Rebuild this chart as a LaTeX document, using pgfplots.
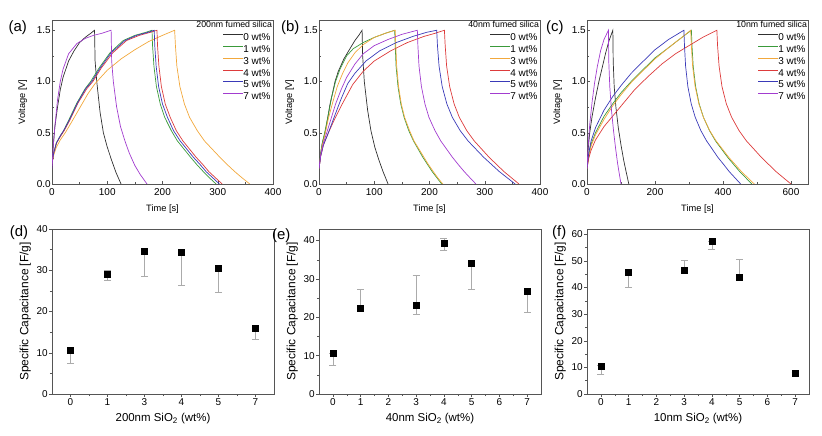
\documentclass[border=0pt]{standalone}
\usepackage{fontspec}
\setmainfont{Liberation Sans}
\usepackage{pgfplots}
\pgfplotsset{compat=1.18}
\usepackage{pgfplotstable}
\definecolor{cblack}{HTML}{303030}
\definecolor{cgreen}{HTML}{3A9A3A}
\definecolor{corange}{HTML}{F2A83C}
\definecolor{cred}{HTML}{DD3B3B}
\definecolor{cblue}{HTML}{3A3AB8}
\definecolor{cviolet}{HTML}{A23CCF}
\definecolor{axgray}{HTML}{555555}
\definecolor{errgray}{HTML}{ABABAB}

\pgfplotsset{
  common/.style={
    scale only axis,
    clip mode=individual,
    /pgf/number format/assume math mode=true,
    tick label style={font=\fontsize{10}{11}\selectfont, inner sep=1.2bp},
    axis line style={axgray},
    every tick/.style={axgray},
    xtick pos=bottom, ytick pos=left,
  },
  gcd/.style={
    common,
    label style={font=\fontsize{9.3}{10}\selectfont},
    xticklabel style={yshift=-3bp},
    xlabel shift=5bp, ylabel shift=5bp,
    width=221bp, height=164bp,
    xmin=0, xmax=400, ymin=0, ymax=1.6,
    xtick={0,100,200,300,400},
    ytick={0,0.5,1,1.5},
    yticklabel style={/pgf/number format/.cd, fixed, fixed zerofill, precision=1},
    minor x tick num=1, minor y tick num=1,
    tick align=inside,
    major tick length=3bp, minor tick length=2bp,
    xlabel={Time [s]}, ylabel={Voltage [V]},
    every axis plot/.append style={line width=0.7bp, mark=none},
    legend style={draw=none, fill=none, at={(0.989,0.917)}, anchor=north east,
      font=\fontsize{10}{11}\selectfont, inner sep=0pt, outer sep=0pt, row sep=3.8bp,
      nodes={inner sep=0pt, text height=7bp, text depth=1bp}},
    legend cell align=right,
    legend image code/.code={\draw[#1] (0bp,3bp) -- (20bp,3bp);},
  },
  cap/.style={
    common,
    ylabel style={font=\fontsize{12}{13}\selectfont},
    xlabel style={font=\fontsize{11.5}{12}\selectfont},
    xlabel shift=3bp, ylabel shift=1bp,
    width=222bp, height=165bp,
    ymin=0,
    minor y tick num=1,
    tick align=outside,
    major tick length=3bp, minor tick length=2bp,
    ylabel={Specific Capacitance [F/g]},
  },
  capplot/.style={
    only marks, mark=square*, mark size=3bp, color=black,
    error bars/.cd, y dir=both, y explicit,
    error bar style={errgray, line width=0.6bp},
    error mark options={errgray, mark size=3.5bp, line width=0.6bp, rotate=90},
  },
}
\newcommand{\plab}[3]{\node[font=\fontsize{15}{15}\selectfont] at (rel axis cs:#1,#2) {(#3)};}

\begin{document}
\begin{tikzpicture}
\path[use as bounding box] (0,0) rectangle (822bp,436bp);

%%%%%%%%%%%%%%%%%%%% (a)
\begin{axis}[gcd, at={(52bp,252bp)}, anchor=south west]
\addplot[cblack] coordinates {(0,0.15)(2,0.35)(5,0.55)(10,0.75)(15,0.92)(20,1.04)(30,1.2)(40,1.3)(50,1.38)(60,1.43)(70,1.47)(77,1.5)
 (78,1.2)(81,1.0)(87,0.7)(93,0.5)(100,0.36)(108,0.23)(116,0.11)(125,0)};
\addplot[cgreen] coordinates {(0,0.2)(3,0.3)(8,0.4)(15,0.47)(21,0.52)(30,0.62)(45,0.79)(60,0.93)(70,1.0)(85,1.13)(105,1.28)(129,1.4)(150,1.45)(170,1.48)(181,1.5)
 (182,1.35)(184.5,1.15)(189,0.95)(196,0.78)(204,0.65)(216,0.52)(227,0.42)(239,0.34)(251,0.26)(262,0.19)(274,0.12)(285,0.06)(297,0)};
\addplot[corange] coordinates {(0,0.2)(3,0.28)(8,0.36)(15,0.43)(24,0.5)(35,0.6)(50,0.74)(65,0.88)(78,0.98)(100,1.11)(125,1.22)(150,1.31)(175,1.39)(200,1.45)(222,1.5)
 (223.4,1.35)(226,1.15)(231.5,0.95)(239.7,0.78)(249,0.65)(263,0.52)(276,0.42)(290,0.34)(304,0.26)(317,0.19)(331,0.12)(344,0.06)(358,0)};
\addplot[cred] coordinates {(0,0.2)(3,0.3)(8,0.4)(16,0.47)(22,0.52)(32,0.62)(47,0.79)(63,0.93)(74,1.0)(89,1.13)(110,1.28)(135,1.4)(158,1.45)(178,1.48)(190,1.5)
 (191,1.35)(193.5,1.15)(198,0.95)(205,0.78)(214,0.65)(225,0.52)(237,0.42)(249,0.34)(261,0.26)(273,0.19)(284,0.12)(296,0.06)(308,0)};
\addplot[cblue] coordinates {(0,0.2)(3,0.3)(8,0.4)(15,0.47)(21,0.52)(31,0.62)(46,0.79)(61,0.93)(72,1.0)(87,1.13)(107,1.28)(132,1.4)(153,1.45)(174,1.48)(185,1.5)
 (186,1.35)(188.5,1.15)(193,0.95)(200,0.78)(209,0.65)(220,0.52)(232,0.42)(244,0.34)(256,0.26)(268,0.19)(279,0.12)(291,0.06)(303,0)};
\addplot[cviolet] coordinates {(0,0.15)(2,0.35)(5,0.55)(10,0.82)(15,1.0)(20,1.12)(30,1.27)(45,1.37)(60,1.42)(75,1.45)(90,1.47)(107,1.5)
 (108,1.2)(111,1.0)(117,0.75)(124,0.56)(132,0.42)(140,0.3)(150,0.18)(160,0.09)(172,0)};
\legend{0 wt\%,1 wt\%,3 wt\%,4 wt\%,5 wt\%,7 wt\%}
\node[anchor=north east, font=\fontsize{8.8}{9}\selectfont, inner sep=0.8bp] at (rel axis cs:1,1) {200nm fumed silica};
\plab{-0.155}{0.955}{a}
\end{axis}

%%%%%%%%%%%%%%%%%%%% (b)
\begin{axis}[gcd, at={(319bp,252bp)}, anchor=south west]
\addplot[cblack] coordinates {(0,0.15)(3,0.3)(6,0.4)(11,0.5)(15,0.62)(20,0.78)(25,0.9)(29,1.0)(35,1.1)(45,1.22)(56,1.32)(65,1.4)(72,1.45)(78,1.5)
 (79,1.25)(82,1.0)(88,0.72)(94,0.52)(101,0.36)(108,0.24)(116,0.12)(125,0)};
\addplot[cgreen] coordinates {(0,0.15)(3,0.3)(6,0.4)(11,0.52)(17,0.68)(23,0.85)(30,1.0)(38,1.12)(50,1.25)(62,1.32)(80,1.38)(100,1.43)(120,1.47)(137,1.5)
 (138,1.35)(139.5,1.15)(143,0.95)(148,0.78)(154,0.65)(162.5,0.52)(171,0.42)(179.5,0.34)(188,0.26)(196.5,0.19)(205,0.12)(213.5,0.06)(222,0)};
\addplot[corange] coordinates {(0,0.15)(3,0.28)(6,0.38)(11,0.49)(17,0.64)(25,0.8)(33,0.95)(42,1.07)(52,1.18)(65,1.28)(80,1.36)(100,1.43)(120,1.47)(138,1.5)
 (139,1.35)(140.6,1.15)(144,0.95)(149,0.78)(155,0.65)(164,0.52)(172,0.42)(181,0.34)(190,0.26)(198,0.19)(207,0.12)(215,0.06)(224,0)};
\addplot[cred] coordinates {(0,0.15)(3,0.27)(8,0.38)(17,0.5)(28,0.63)(40,0.76)(52,0.88)(61,0.97)(80,1.1)(100,1.2)(130,1.3)(160,1.38)(190,1.44)(210,1.47)(227,1.5)
 (228.4,1.35)(231,1.15)(236.5,0.95)(244.6,0.78)(254,0.65)(267.5,0.52)(281,0.42)(294.5,0.34)(308,0.26)(321.5,0.19)(335,0.12)(348.5,0.06)(362,0)};
\addplot[cblue] coordinates {(0,0.15)(3,0.27)(8,0.38)(17,0.5)(28,0.66)(40,0.83)(52,0.98)(65,1.08)(85,1.2)(110,1.3)(140,1.38)(170,1.44)(195,1.48)(213,1.5)
 (214.4,1.35)(217.3,1.15)(223,0.95)(231.5,0.78)(241.4,0.65)(255.6,0.52)(269.8,0.42)(284,0.34)(298.2,0.26)(312.4,0.19)(326.6,0.12)(340.8,0.06)(355,0)};
\addplot[cviolet] coordinates {(0,0.15)(3,0.28)(8,0.4)(14,0.5)(22,0.64)(30,0.78)(40,0.92)(50,1.04)(65,1.17)(80,1.27)(100,1.35)(125,1.41)(150,1.46)(178,1.5)
 (179,1.35)(181,1.15)(185.4,0.95)(191.8,0.78)(199,0.65)(210,0.52)(220.4,0.42)(231,0.34)(241.6,0.26)(252,0.19)(263,0.12)(273.4,0.06)(284,0)};
\legend{0 wt\%,1 wt\%,3 wt\%,4 wt\%,5 wt\%,7 wt\%}
\node[anchor=north east, font=\fontsize{8.8}{9}\selectfont, inner sep=0.8bp] at (rel axis cs:1,1) {40nm fumed silica};
\plab{-0.13}{0.955}{b}
\end{axis}

%%%%%%%%%%%%%%%%%%%% (c)
\begin{axis}[gcd, at={(587bp,252bp)}, anchor=south west, xmax=650, xtick={0,200,400,600}]
\addplot[cblack] coordinates {(0,0.15)(3,0.32)(8,0.5)(15,0.66)(25,0.84)(35,1.0)(45,1.14)(55,1.28)(65,1.4)(76,1.5)
 (77,1.2)(80,0.95)(85,0.75)(92,0.55)(100,0.38)(108,0.23)(115,0.12)(123,0)};
\addplot[cgreen] coordinates {(0,0.15)(5,0.28)(12,0.39)(25,0.5)(50,0.66)(75,0.78)(100,0.89)(130,1.0)(160,1.1)(200,1.23)(240,1.33)(275,1.42)(307,1.5)
 (308.8,1.35)(312.3,1.15)(319.5,0.95)(330,0.78)(342.6,0.65)(360.4,0.52)(378,0.42)(396,0.34)(413.8,0.26)(431.6,0.19)(449.4,0.12)(467.2,0.06)(485,0)};
\addplot[corange] coordinates {(0,0.15)(5,0.27)(12,0.37)(25,0.48)(50,0.63)(75,0.76)(100,0.87)(130,0.99)(160,1.09)(200,1.22)(240,1.33)(275,1.42)(305,1.5)
 (306.9,1.35)(310.6,1.15)(318,0.95)(329.3,0.78)(342.4,0.65)(361,0.52)(379.8,0.42)(398.5,0.34)(417,0.26)(436,0.19)(454.6,0.12)(473.3,0.06)(492,0)};
\addplot[cred] coordinates {(0,0.15)(5,0.25)(12,0.33)(25,0.43)(50,0.56)(75,0.66)(100,0.76)(140,0.92)(180,1.05)(220,1.17)(260,1.27)(300,1.35)(340,1.43)(382,1.5)
 (384,1.35)(388.5,1.15)(397,0.95)(410,0.78)(425.6,0.65)(447.4,0.52)(469,0.42)(491,0.34)(512.8,0.26)(534.6,0.19)(556.4,0.12)(578,0.06)(600,0)};
\addplot[cblue] coordinates {(0,0.15)(5,0.3)(12,0.42)(25,0.55)(50,0.72)(75,0.85)(100,0.96)(130,1.08)(160,1.18)(200,1.31)(240,1.41)(265,1.46)(285,1.5)
 (286.7,1.35)(290,1.15)(296.7,0.95)(306.7,0.78)(318.4,0.65)(335,0.52)(351.8,0.42)(368.5,0.34)(385,0.26)(402,0.19)(418.6,0.12)(435.3,0.06)(452,0)};
\addplot[cviolet] coordinates {(0,0.15)(3,0.35)(8,0.58)(15,0.8)(22,0.98)(30,1.14)(40,1.3)(50,1.41)(63,1.5)
 (64,1.2)(67,0.95)(72,0.72)(78,0.52)(84,0.35)(90,0.2)(95,0.1)(100,0)};
\legend{0 wt\%,1 wt\%,3 wt\%,4 wt\%,5 wt\%,7 wt\%}
\node[anchor=north east, font=\fontsize{8.8}{9}\selectfont, inner sep=0.8bp] at (rel axis cs:1,1) {10nm fumed silica};
\plab{-0.145}{0.955}{c}
\end{axis}

%%%%%%%%%%%%%%%%%%%% (d)
\begin{axis}[cap, at={(52bp,42bp)}, anchor=south west,
  xmin=-0.5, xmax=5.5, xtick={0,1,2,3,4,5}, xticklabels={0,1,3,4,5,7},
  minor x tick num=1, ymax=40, ytick={0,10,20,30,40},
  xlabel={200nm SiO\textsubscript{2} (wt\%)}]
\addplot[capplot] table[x=x, y=y, y error plus=ep, y error minus=em] {
x y ep em
0 10.6 0 3.1
1 29.0 1.0 1.5
2 34.7 0 6.2
3 34.3 0 8.0
4 30.4 0 5.8
5 15.9 0 2.7
};
\plab{-0.149}{0.975}{d}
\end{axis}

%%%%%%%%%%%%%%%%%%%% (e)
\begin{axis}[cap, at={(319bp,42bp)}, anchor=south west,
  xmin=-0.5, xmax=7.5, xtick={0,1,...,7}, minor x tick num=1,
  ymax=43, ytick={0,10,20,30,40},
  xlabel={40nm SiO\textsubscript{2} (wt\%)}]
\addplot[capplot] table[x=x, y=y, y error plus=ep, y error minus=em] {
x y ep em
0 10.7 0 3.2
1 22.3 5.0 0
3 23.2 7.8 2.3
4 39.2 1.3 1.7
5 34.0 0 6.8
7 26.9 0 5.5
};
\plab{-0.17}{0.96}{e}
\end{axis}

%%%%%%%%%%%%%%%%%%%% (f)
\begin{axis}[cap, at={(587bp,42bp)}, anchor=south west,
  xmin=-0.5, xmax=7.5, xtick={0,1,...,7}, minor x tick num=1,
  ymax=62, ytick={0,10,...,60},
  xlabel={10nm SiO\textsubscript{2} (wt\%)}]
\addplot[capplot] table[x=x, y=y, y error plus=ep, y error minus=em] {
x y ep em
0 10.6 0 3.2
1 45.75 0 5.65
3 46.6 3.5 0.8
4 57.5 0 3.0
5 43.9 6.7 0.5
7 8.0 0 0
};
\plab{-0.125}{0.98}{f}
\end{axis}
\end{tikzpicture}
\end{document}
